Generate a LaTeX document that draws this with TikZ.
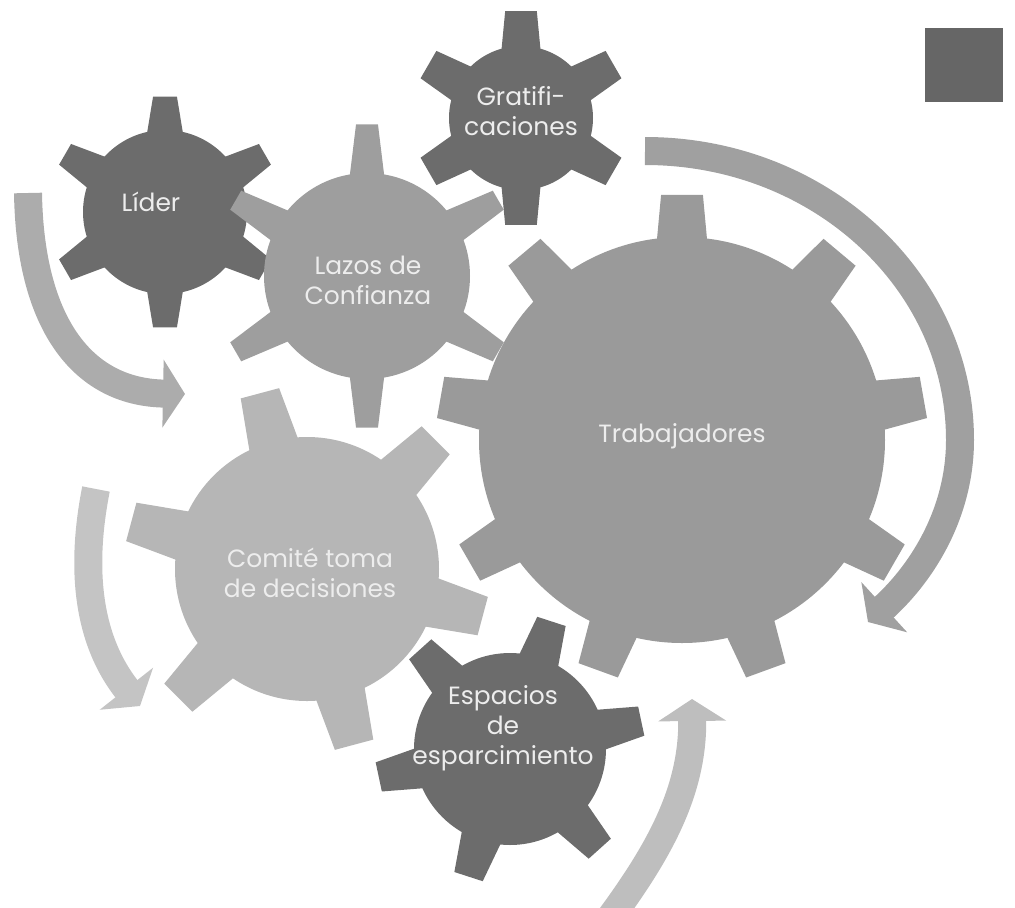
\documentclass[tikz,border=0pt]{standalone}
\usepackage{fontspec}
\setmainfont{Poppins}
\usetikzlibrary{arrows.meta,positioning}

\definecolor{gearDark}{RGB}{108,108,108}
\definecolor{gearMid}{RGB}{158,158,158}
\definecolor{gearBig}{RGB}{154,154,154}
\definecolor{gearLight}{RGB}{182,182,182}
\definecolor{boxGray}{RGB}{102,102,102}
\definecolor{flowA}{RGB}{172,172,172}
\definecolor{flowB}{RGB}{196,196,196}
\definecolor{flowC}{RGB}{160,160,160}
\definecolor{flowD}{RGB}{190,190,190}

% #1 centre, #2 teeth, #3 first tooth, #4 body radius, #5 tip radius,
% #6 half width at base, #7 half width at tip, #8 colour
\newcommand{\gearshape}[8]{%
  \begin{scope}[shift={#1}]
    \fill[#8] (0,0) circle[radius=#4];
    \foreach \k in {1,...,#2}{
      \pgfmathsetmacro{\ga}{#3+(\k-1)*360/#2}
      \pgfmathsetmacro{\gb}{atan(#6/#4)}
      \pgfmathsetmacro{\gt}{atan(#7/#5)}
      \pgfmathsetmacro{\gr}{#4-8}
      \fill[#8] (\ga-\gb:\gr) -- (\ga-\gt:#5) -- (\ga+\gt:#5) -- (\ga+\gb:\gr) -- cycle;
    }
  \end{scope}}

\begin{document}
\begin{tikzpicture}[x=0.02cm, y=-0.02cm,
    gear label/.style = {text=white!93!black, align=center, inner sep=0pt,
                         font=\fontsize{14.2}{17}\selectfont},
    flow/.style = {line width=0.56cm, -{Triangle[width=1.34cm, length=0.44cm]}}
]
\useasboundingbox (0,0) rectangle (1015,907);

% gears, back to front
\gearshape{(521,118)}{6}{30}{72}{108}{24}{16}{gearDark}
\gearshape{(165,212)}{6}{30}{82}{116}{22}{12}{gearDark}
\gearshape{(367,276)}{6}{30}{103}{152}{20}{11}{gearMid}
\gearshape{(682,440)}{9}{30}{203}{246}{27}{21}{gearBig}
\gearshape{(307,569)}{6}{15}{132}{183}{28}{20}{gearLight}
\gearshape{(510,749)}{6}{48}{96}{135}{24}{15}{gearDark}

\fill[boxGray] (925,28) rectangle (1003,102);

% labels
\node (lider)  [gear label] at (151,202) {Líder};
\node (lazos)  [gear label] at (368,280) {Lazos de\\Confianza};
\node (grat)   [gear label] at (521,111) {Gratifi-\\caciones};
\node (trab)   [gear label] at (682,436) {Trabajadores};
\node (comite) [gear label] at (310,573) {Comité toma\\de decisiones};
\node (esp)    [gear label] at (503,728) {Espacios\\de\\esparcimiento};

% curved arrows
\coordinate (a1s) at (28,193);   \coordinate (a1e) at (185,394);
\coordinate (a2s) at (96,489);   \coordinate (a2e) at (140,706);
\coordinate (a3s) at (645,151);  \coordinate (a3m) at (960,440);
\coordinate (a3e) at (868,622);
\coordinate (a4s) at (610,918);  \coordinate (a4e) at (692,699);

\draw[flow, draw=flowA] (a1s) .. controls (30,320) and (80,392) .. (a1e);
\draw[flow, draw=flowB] (a2s) .. controls (80,570) and (88,640) .. (a2e);
\draw[flow, draw=flowC] (a3s) .. controls (820,151) and (960,281) .. (a3m)
                              .. controls (960,510) and (925,570) .. (a3e);
\draw[flow, draw=flowD] (a4s) .. controls (660,850) and (693,790) .. (a4e);
\end{tikzpicture}
\end{document}
